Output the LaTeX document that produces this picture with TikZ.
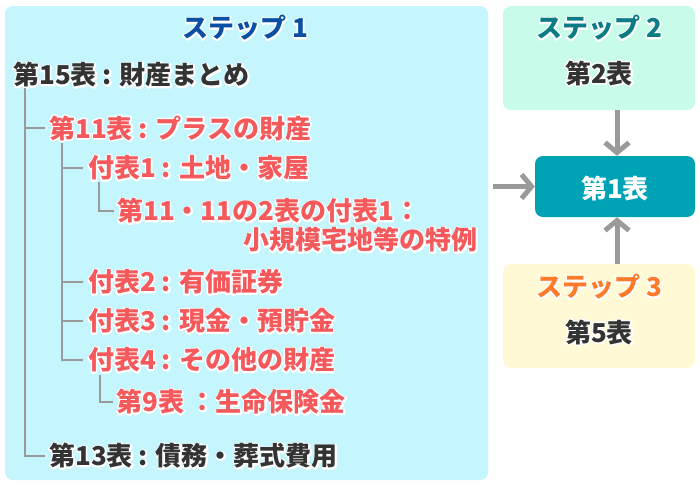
\documentclass[tikz,border=0pt]{standalone}
\usepackage{fontspec}
\setmainfont{Noto Sans CJK JP}
\usetikzlibrary{arrows.meta}
\definecolor{boxA}{HTML}{C6F6FD}
\definecolor{boxB}{HTML}{C9FBEB}
\definecolor{boxC}{HTML}{FFFAD5}
\definecolor{boxMain}{HTML}{00A2B5}
\definecolor{titleA}{HTML}{0B4FA5}
\definecolor{titleB}{HTML}{0B7B85}
\definecolor{titleC}{HTML}{FF7A29}
\definecolor{redtxt}{HTML}{F5595B}
\definecolor{darktxt}{HTML}{333333}
\definecolor{linegray}{HTML}{9A9A9A}
\newcommand{\halo}[1]{\leavevmode\rlap{\special{pdf:literal direct 1 Tr 3 w 1 j 1 1 1 RG}#1\special{pdf:literal direct 0 Tr}}#1}
\tikzset{
  stepbox/.style={rounded corners=8pt, inner sep=0pt, draw=none},
  item/.style={anchor=west, inner sep=0pt, font=\fontsize{26}{30}\selectfont\bfseries},
  reditem/.style={item, text=redtxt},
  darkitem/.style={item, text=darktxt},
  titletxt/.style={inner sep=0pt, font=\fontsize{26}{30}\selectfont\bfseries},
  tree/.style={draw=linegray, line width=2.4pt},
  bigarrow/.style={draw=linegray, line width=5pt, -{Straight Barb[length=10pt,width=24pt]}}
}
\begin{document}
\begin{tikzpicture}[x=1pt,y=-1pt]
\useasboundingbox (0,0) rectangle (700,490);
% boxes
\node[stepbox, fill=boxA, minimum width=483pt, minimum height=474pt] (s1) at (246.5,243) {};
\node[stepbox, fill=boxB, minimum width=192pt, minimum height=104pt] (s2) at (599,58) {};
\node[stepbox, fill=boxC, minimum width=192pt, minimum height=104pt] (s3) at (599,316) {};
\node[stepbox, fill=boxMain, minimum width=160pt, minimum height=61pt] (m) at (615,186.5) {};
% titles
\node[titletxt, text=titleA] (t1) at (245,28) {\halo{ステップ 1}};
\node[titletxt, text=titleB] (t2) at (599,28) {\halo{ステップ 2}};
\node[titletxt, text=darktxt] (t2b) at (599,73) {\halo{第2表}};
\node[titletxt, text=titleC] (t3) at (599,287) {\halo{ステップ 3}};
\node[titletxt, text=darktxt] (t3b) at (599,332) {\halo{第5表}};
\node[titletxt, text=white] (tm) at (615,188) {第1表};
% tree items
\node[darkitem] (n15) at (13,75) {\halo{第15表 : 財産まとめ}};
\node[reditem] (n11) at (49,128) {\halo{第11表 : プラスの財産}};
\node[reditem] (f1) at (88,168) {\halo{付表1 : 土地・家屋}};
\node[reditem] (l1) at (117,211) {\halo{第11・11の2表の付表1：}};
\node[reditem, anchor=east] (l2) at (478,240) {\halo{小規模宅地等の特例}};
\node[reditem] (f2) at (88,282) {\halo{付表2 : 有価証券}};
\node[reditem] (f3) at (88,321) {\halo{付表3 : 現金・預貯金}};
\node[reditem] (f4) at (88,360) {\halo{付表4 : その他の財産}};
\node[reditem] (n9) at (116,402) {\halo{第9表 ：生命保険金}};
\node[darkitem] (n13) at (49,456) {\halo{第13表 : 債務・葬式費用}};
% tree connectors
\draw[tree] ([xshift=12pt]n15.west) ++(0,13) |- ([xshift=-4pt]n11.west);
\draw[tree] ([xshift=12pt]n15.west) ++(0,13) |- ([xshift=-4pt]n13.west);
\draw[tree] ([xshift=13pt]n11.west) ++(0,15) |- ([xshift=-5pt]f1.west);
\draw[tree] ([xshift=13pt]n11.west) ++(0,15) |- ([xshift=-5pt]f2.west);
\draw[tree] ([xshift=13pt]n11.west) ++(0,15) |- ([xshift=-5pt]f3.west);
\draw[tree] ([xshift=13pt]n11.west) ++(0,15) |- ([xshift=-5pt]f4.west);
\draw[tree] ([xshift=11pt]f1.west) ++(0,14) |- ([xshift=-3pt]l1.west);
\draw[tree] ([xshift=12pt]f4.west) ++(0,15) |- ([xshift=-3pt]n9.west);
% arrows
\coordinate (top) at ([xshift=2pt]m.north);
\coordinate (bot) at ([xshift=2pt]m.south);
\draw[bigarrow] (s2.south -| top) -- (top);
\draw[bigarrow] (s3.north -| bot) -- (bot);
\coordinate (afrom) at ([xshift=5pt]s1.east |- m.west);
\draw[bigarrow] (afrom) -- (m.west);
\end{tikzpicture}
\end{document}
